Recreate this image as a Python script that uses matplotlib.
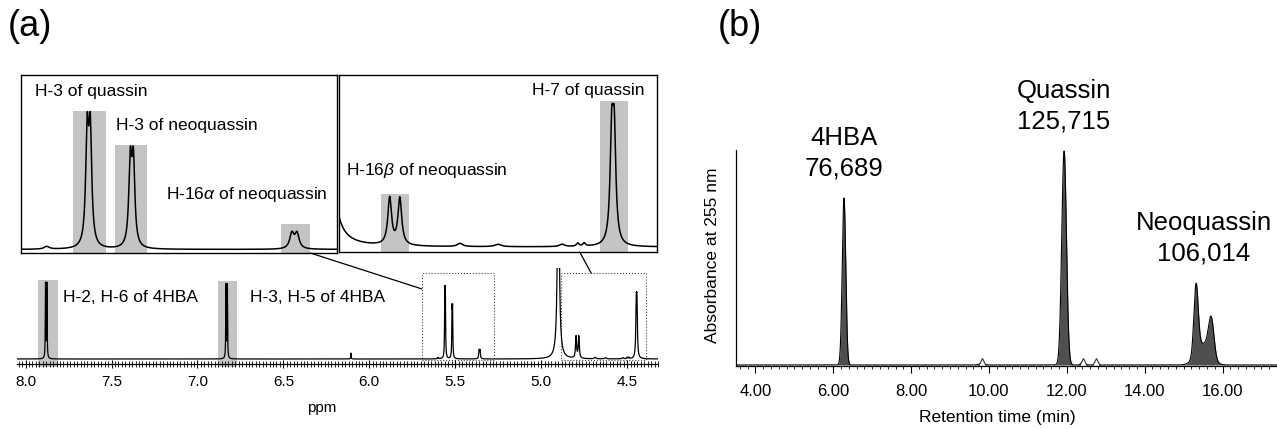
import numpy as np
import matplotlib.pyplot as plt
from matplotlib.patches import Rectangle, ConnectionPatch

plt.rcParams['font.family'] = ['Liberation Sans', 'DejaVu Sans']
plt.rcParams['mathtext.fontset'] = 'custom'
plt.rcParams['mathtext.rm'] = 'Liberation Sans'
plt.rcParams['mathtext.it'] = 'Liberation Sans:italic'

# ---------------- (a) 1H NMR peak list ----------------
# shift in ppm, height relative to H-3 of quassin, line width (FWHM) in ppm
NMR_SHIFT = [7.884, 7.876, 6.834, 6.826, 6.107, 5.600, 5.5605, 5.5575,
             5.5185, 5.5155, 5.3610, 5.3560, 4.900, 4.797, 4.781, 4.686,
             4.626, 4.525, 4.500, 4.490, 4.4465, 4.4425]
NMR_HEIGHT = [1.02, 1.02, 1.00, 1.00, 0.08, 0.02, 0.80, 0.80,
              0.60, 0.60, 0.11, 0.11, 3.00, 0.30, 0.30, 0.02,
              0.015, 0.015, 0.02, 0.02, 0.655, 0.655]
NMR_WIDTH = [0.003, 0.003, 0.003, 0.003, 0.003, 0.006, 0.0034, 0.0034,
             0.0034, 0.0034, 0.005, 0.005, 0.0121, 0.007, 0.007, 0.010,
             0.012, 0.010, 0.005, 0.005, 0.006, 0.006]
NMR_TICKS = [8.0, 7.5, 7.0, 6.5, 6.0, 5.5, 5.0, 4.5]
NMR_TICK_LABELS = ['8.0', '7.5', '7.0', '6.5', '6.0', '5.5', '5.0', '4.5']

# assigned signals: (label, centre ppm, half width of the highlight)
LOWER_SIGNALS = [('H-2, H-6 of 4HBA', 7.870, 0.060),
                 ('H-3, H-5 of 4HBA', 6.825, 0.055)]
LEFT_SIGNALS = [('H-3 of quassin', 5.558, 0.016),
                ('H-3 of neoquassin', 5.5175, 0.0155),
                (r'H-16$\mathit{\alpha}$ of neoquassin', 5.3575, 0.0145)]
RIGHT_SIGNALS = [(r'H-16$\mathit{\beta}$ of neoquassin', 4.789, 0.022),
                 ('H-7 of quassin', 4.443, 0.022)]

# ---------------- (b) HPLC chromatogram ----------------
RT_TIME = [6.275, 9.82, 11.93, 12.42, 12.75, 15.32, 15.50, 15.71]
RT_HEIGHT = [167, 2, 214, 3, 1, 69, 21, 38]
RT_SIGMA = [0.045, 0.06, 0.06, 0.05, 0.05, 0.055, 0.18, 0.07]
COMPOUNDS = ['4HBA', 'Quassin', 'Neoquassin']
AREAS = [76689, 125715, 106014]
COMPOUND_PEAKS = [[0], [2], [5, 7]]
MINOR_PEAKS = [1, 3, 4]
RT_TICKS = [4, 6, 8, 10, 12, 14, 16]
RT_TICK_LABELS = ['4.00', '6.00', '8.00', '10.00', '12.00', '14.00', '16.00']

W, H = 1277, 429
fig = plt.figure(figsize=(W / 100, H / 100), dpi=100)


def px_axes(left, top, right, bottom):
    return fig.add_axes([left / W, (H - bottom) / H, (right - left) / W, (bottom - top) / H])


# NMR trace
ppm = np.linspace(8.1, 4.3, 80001)
spec = np.zeros_like(ppm)
for s, h, w in zip(NMR_SHIFT, NMR_HEIGHT, NMR_WIDTH):
    spec += h / (1 + (2 * (ppm - s) / w) ** 2)

GREY = '#c4c4c4'


def highlight(ax, centre, hw, pad, below=0.0):
    sel = (ppm <= centre + hw) & (ppm >= centre - hw)
    y0 = ax.get_ylim()[0] - below
    top = spec[sel].max() + pad
    ax.add_patch(Rectangle((centre + hw, y0), -2 * hw, top - y0, facecolor=GREY,
                           edgecolor='none', zorder=0, clip_on=False))


# lower full spectrum
ax_low = px_axes(17, 268, 658, 364)
ax_low.plot(ppm, spec, color='black', lw=0.9)
ax_low.set_xlim(8.05, 4.32)
ax_low.set_ylim(-0.0685, 1.247)
for sp in ['top', 'left', 'right']:
    ax_low.spines[sp].set_visible(False)
ax_low.spines['bottom'].set_linewidth(0.9)
ax_low.set_yticks([])
ax_low.set_xticks(NMR_TICKS, labels=NMR_TICK_LABELS, fontsize=11)
ax_low.set_xticks(np.arange(4.32, 8.05, 0.02), minor=True)
ax_low.tick_params(axis='x', which='major', direction='inout', length=6, width=0.8, pad=5)
ax_low.tick_params(axis='x', which='minor', direction='inout', length=4, width=0.6)
ax_low.text(0.476, -0.458, 'ppm', transform=ax_low.transAxes, ha='center', va='center',
            fontsize=11)
for (lab, c, hw), xf in zip(LOWER_SIGNALS, [0.072, 0.3635]):
    highlight(ax_low, c, hw, 0.03, below=0.04)
    ax_low.text(xf, 0.6875, lab, transform=ax_low.transAxes, ha='left', va='center',
                fontsize=12.5)

# dotted boxes marking the expanded regions
for x0, x1 in [(5.694, 5.274), (4.884, 4.389)]:
    ax_low.add_patch(Rectangle((x0, -0.014), x1 - x0, 1.192, fill=False, lw=0.8,
                               ls=':', edgecolor='#444444'))

# left expansion
ax_l = px_axes(21, 75, 337, 253)
ax_l.plot(ppm, spec, color='black', lw=1.1)
ax_l.set_xlim(5.625, 5.317)
ax_l.set_ylim(-0.0255, 1.274)
ax_l.set_xticks([])
ax_l.set_yticks([])
pads = [0.005, 0.005, 0.05]
text_pos = [(0.045, 0.91), (0.30, 0.719), (0.46, 0.326)]
for (lab, c, hw), p, (tx, ty) in zip(LEFT_SIGNALS, pads, text_pos):
    highlight(ax_l, c, hw, p)
    ax_l.text(tx, ty, lab, transform=ax_l.transAxes, ha='left', va='center', fontsize=12.5)

# right expansion
ax_r = px_axes(339, 75, 657, 252)
ax_r.plot(ppm, spec, color='black', lw=1.1)
ax_r.set_xlim(4.877, 4.375)
ax_r.set_ylim(-0.032, 1.10)
ax_r.set_xticks([])
ax_r.set_yticks([])
text_pos = [(0.022, 0.458, 'left'), (0.962, 0.915, 'right')]
for (lab, c, hw), (tx, ty, ha) in zip(RIGHT_SIGNALS, text_pos):
    highlight(ax_r, c, hw, 0.012)
    ax_r.text(tx, ty, lab, transform=ax_r.transAxes, ha=ha, va='center', fontsize=12.5)

for ax in (ax_l, ax_r):
    for sp in ax.spines.values():
        sp.set_linewidth(1.0)
        sp.set_zorder(3)

# connector lines between expansions and the full spectrum
fig.add_artist(ConnectionPatch(xyA=(5.343, -0.0255), coordsA=ax_l.transData,
                               xyB=(5.694, 0.96), coordsB=ax_low.transData,
                               color='black', lw=0.9))
fig.add_artist(ConnectionPatch(xyA=(4.497, -0.032), coordsA=ax_r.transData,
                               xyB=(4.709, 1.178), coordsB=ax_low.transData,
                               color='black', lw=0.9))

fig.text(8 / W, 1 - 27 / H, '(a)', fontsize=26, ha='left', va='center')

# ---------------- (b) ----------------
t = np.linspace(3.4, 17.5, 20001)
absb = np.zeros_like(t)
for c, h, s in zip(RT_TIME, RT_HEIGHT, RT_SIGMA):
    absb += h * np.exp(-0.5 * ((t - c) / s) ** 2)

ax_b = px_axes(736, 150, 1277, 366)
ax_b.fill_between(t, absb, 0, color='#4f4f4f', lw=0)
ax_b.plot(t, absb, color='black', lw=0.8)
mt = [RT_TIME[i] for i in MINOR_PEAKS]
ax_b.plot(mt, [3] * len(mt), ls='none', marker='^', ms=6, mfc='white', mec='#333333',
          mew=0.8)
ax_b.set_xlim(3.5, 17.4)
ax_b.set_ylim(-1, 215)
for sp in ['top', 'right']:
    ax_b.spines[sp].set_visible(False)
ax_b.spines['left'].set_linewidth(0.9)
ax_b.spines['bottom'].set_linewidth(0.9)
ax_b.set_yticks([])
ax_b.set_xticks(RT_TICKS, labels=RT_TICK_LABELS, fontsize=12)
ax_b.set_xticks(np.arange(3.6, 17.4, 0.2), minor=True)
ax_b.tick_params(axis='x', which='major', direction='out', length=5, width=0.8, pad=8)
ax_b.tick_params(axis='x', which='minor', direction='out', length=2.5, width=0.6)
ax_b.text(0.4825, -0.24, 'Retention time (min)', transform=ax_b.transAxes,
          ha='center', va='center', fontsize=12.5)
ax_b.text(-0.044, 0.514, 'Absorbance at 255 nm', transform=ax_b.transAxes,
          ha='center', va='center', rotation=90, fontsize=12.5)

for name, area, idx in zip(COMPOUNDS, AREAS, COMPOUND_PEAKS):
    tc = np.mean([RT_TIME[i] for i in idx])
    sel = (t > min(RT_TIME[i] for i in idx) - 0.3) & (t < max(RT_TIME[i] for i in idx) + 0.3)
    top = absb[sel].max()
    ax_b.annotate(f'{area:,}', (tc, top), xytext=(0, 21), textcoords='offset points',
                  ha='center', va='center', fontsize=18.5, annotation_clip=False)
    ax_b.annotate(name, (tc, top), xytext=(0, 43), textcoords='offset points',
                  ha='center', va='center', fontsize=18.5, annotation_clip=False)

fig.text(718 / W, 1 - 27 / H, '(b)', fontsize=26, ha='left', va='center')

fig.savefig('out.png', dpi=100)
